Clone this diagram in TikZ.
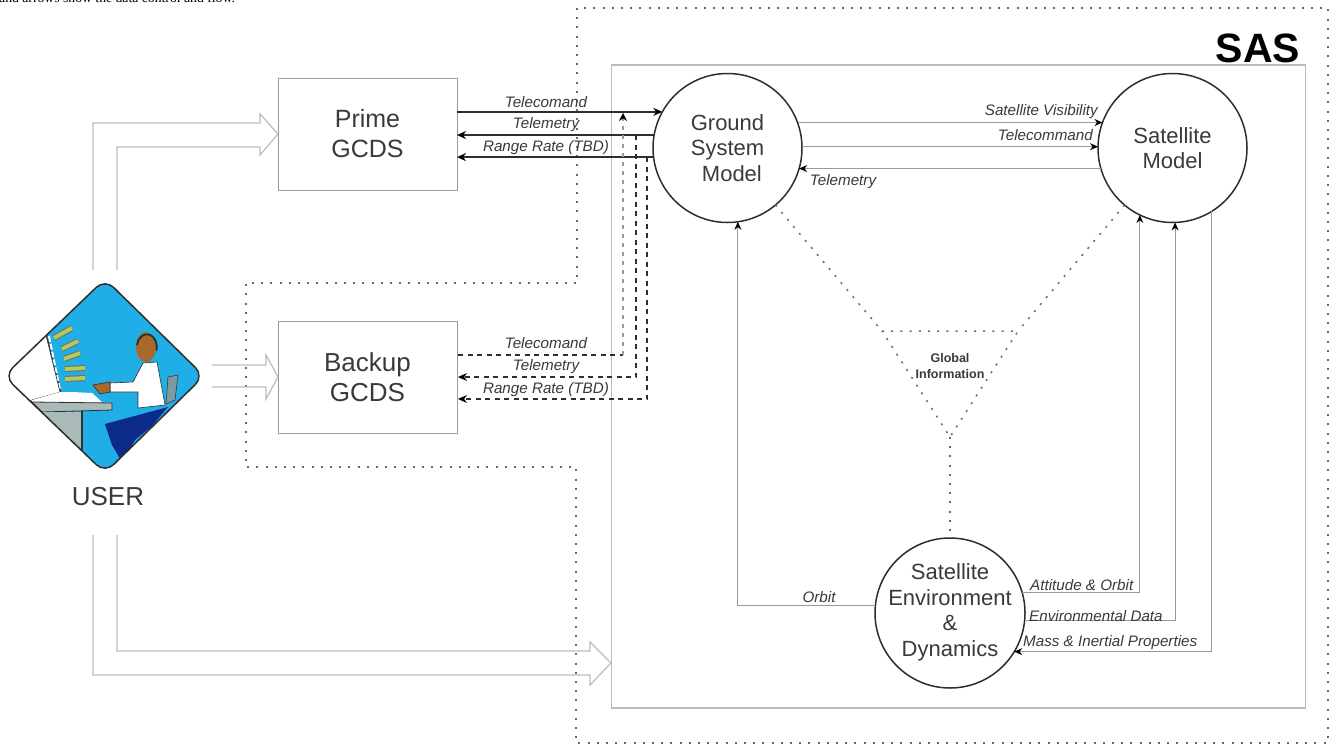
\documentclass[tikz,border=0pt]{standalone}
\usepackage{fontspec}
\setmainfont{Liberation Sans}
\newfontfamily\serifcap{Liberation Serif}
\usetikzlibrary{arrows.meta,shapes.geometric}
\newcommand\fsz[2]{\fontsize{#1}{#2}\selectfont}
\definecolor{txt}{HTML}{3A3A3A}
\definecolor{lite}{HTML}{BCBCBC}
\definecolor{mid}{HTML}{9A9A9A}
\definecolor{dark}{HTML}{2E2E2E}
\definecolor{dotc}{HTML}{6A6A6A}
\definecolor{cy}{HTML}{1FAEE6}
\definecolor{deskc}{HTML}{A9BAB8}
\definecolor{chairc}{HTML}{7E9AA0}
\definecolor{barc}{HTML}{B5C85A}
\definecolor{skin}{HTML}{A8692C}
\definecolor{pants}{HTML}{0C2A8A}
\tikzset{
  boxn/.style={draw=mid,line width=1pt,rectangle,minimum width=179pt,minimum height=112pt,inner sep=0pt,outer sep=0pt,align=center,text=txt,font=\fsz{25}{30}},
  circn/.style={draw=dark,line width=1.5pt,circle,inner sep=-30pt,outer sep=0pt,align=center,text=txt,font=\fsz{22}{25.5}},
  hollow/.style={draw=lite,line width=1.2pt,line join=miter},
  dotline/.style={draw=dotc,line width=1.5pt,dash pattern=on 2pt off 7.2pt},
  blackline/.style={draw=dark,line width=1.4pt,-{Stealth[length=9pt,width=8pt,color=black]}},
  dashplain/.style={draw=dark,line width=1.1pt,dash pattern=on 5pt off 4.5pt},
  dashline/.style={dashplain,-{Stealth[length=9pt,width=8pt,color=black]}},
  fadedash/.style={draw=mid,line width=1.5pt,dash pattern=on 4pt off 5pt,-{Stealth[length=8pt,width=8pt,color=black]}},
  greyline/.style={draw=mid,line width=1pt,-{Stealth[length=8pt,width=7pt,color=black]}},
  lab/.style={font=\fsz{15.2}{16}\itshape,text=txt,inner sep=0pt},
}
\begin{document}
\begin{tikzpicture}[x=1pt,y=-1pt]
\useasboundingbox (0,0) rectangle (1333,745);
\fill[white] (0,0) rectangle (1333,745);
% caption line cut by the top edge, as in the reference
\node[anchor=base west,inner sep=0pt,font=\serifcap\fsz{13.7}{14}] (cap) at (-1,2) {and arrows show the data control and flow.};
% outer dotted boundary and inner box
\draw[dotline] (577,8) -- (577,283) -- (246,283) -- (246,467) -- (576,467) -- (576,743) -- (1328,743) -- (1328,8) -- cycle;
\node[draw=lite,line width=1.2pt,rectangle,minimum width=694pt,minimum height=643pt,inner sep=0pt,outer sep=0pt] (sas) at (958.5,386.5) {};
\node[font=\bfseries\fsz{41}{41},text=black,inner sep=0pt] (sasl) at (1258,48) {SAS};
% boxes and circles
\node[boxn] (prime) at (367.5,134) {Prime\\GCDS};
\node[boxn,font=\fsz{26}{30}] (backup) at (367.5,377) {Backup\\GCDS};
\node[circn,minimum size=149pt] (ground) at (727.5,148) {Ground\\System\\\hspace{.4em}Model};
\node[circn,minimum size=149pt] (sat) at (1172.5,148) {Satellite\\Model};
\node[circn,minimum size=150pt] (env) at (950,613) {\raisebox{3pt}{\begin{tabular}{@{}c@{}}Satellite\\Environment\\\&\\Dynamics\end{tabular}}};
% user icon
\node[draw=none,diamond,minimum width=190pt,minimum height=184pt,inner sep=0pt] (user) at (104,376) {};
\begin{scope}
 \clip[rounded corners=12pt] (105,279) -- (204,376) -- (105,473) -- (4,376) -- cycle;
 \fill[cy] (0,275) rectangle (210,480);
 \fill[white,draw=dark,line width=.8pt] (0,376) -- (46,333) -- (61,392) -- (32,400) -- (30,410) -- (0,390) -- cycle;
 \draw[white,line width=2pt,dash pattern=on 6pt off 2pt] (49,336) -- (60,390);
 \draw[dark,line width=.7pt] (46,335) -- (60,392);
 \foreach \a/\b/\c/\d in {54/338/72/328,62/349/78/341,64/359/80/353,65/369/85/368,65/379/85/378}
   {\draw[dark!70,line width=6pt] (\a,\b) -- (\c,\d); \draw[barc,line width=4pt] (\a,\b) -- (\c,\d);}
 \fill[white] (32,400) -- (60,392) -- (72,392) -- (72,402) -- (112,403) -- (32,403) -- cycle;
 \fill[white] (72,392) -- (92,393) -- (103,403) -- (72,402) -- cycle;
 \fill[deskc,draw=dark,line width=.8pt] (32,402) -- (112,403) -- (112,410) -- (42,412) -- cycle;
 \fill[deskc] (42,412) -- (82,412) -- (82,475) -- (60,475) -- (20,420) -- cycle;
 \draw[dark,line width=1.2pt] (82,411) -- (82,475);
 \fill[chairc,draw=dark,line width=.5pt] (168,377) -- (178,375) -- (175,400) -- (166,404) -- cycle;
 \fill[white,draw=dark,line width=.6pt] (143,363) -- (157,362) -- (165,405) -- (138,408) -- (138,392) -- (110,392) -- (110,383) -- (133,382) -- cycle;
 \fill[skin,draw=dark,line width=.6pt] (93,385) -- (110,382) -- (110,392) -- (100,394) -- cycle;
 \fill[skin] (146,347) ellipse (10pt and 15pt);
 \draw[dark,line width=1.8pt] (137,345) arc[start angle=190,end angle=375,x radius=10pt,y radius=-13pt];
 \fill[pants] (105,424) -- (168,407) -- (152,426) -- (135,440) -- (122,462) -- (112,445) -- cycle;
\end{scope}
\draw[dark,line width=1.5pt,rounded corners=12pt] (105,279) -- (204,376) -- (105,473) -- (4,376) -- cycle;
\node[font=\fsz{26}{26},text=txt,inner sep=0pt] (usr) at (108,497) {USER};
% hollow arrows
\coordinate (u1) at (93,270);
\coordinate (u2) at (117,270);
\coordinate (u3) at (212,365);
\coordinate (u4) at (212,387);
\coordinate (u5) at (93,535);
\coordinate (u6) at (117,535);
\coordinate (tip) at (611,663);
\draw[hollow] (u1) |- (260,123) -- (260,114) -- (prime.west) -- (260,155) -- (260,147) -| (u2);
\draw[hollow] (u3) -- (266,365) -- (266,355) -- (backup.west) -- (266,399) -- (266,387) -- (u4);
\draw[hollow] (u5) |- (590,675) -- (590,685) -- (tip) -- (590,642) -- (590,651) -| (u6);
% prime links
\draw[blackline] (prime.east |- ground.151) -- (ground.151);
\draw[blackline] (ground.170) -- (prime.east |- ground.170);
\draw[blackline] (ground.187) -- (prime.east |- ground.187);
\node[lab] (l1) at (546,102) {Telecomand};
\node[lab] (l2) at (546,125) {Telemetry};
\node[lab] (l3) at (546,148) {Range Rate (TBD)};
% backup links
\coordinate (c1) at (623,113);
\coordinate (c1b) at (623,355);
\coordinate (c2) at (636,135);
\coordinate (c3) at (647,157);
\coordinate (y1) at (458,355);
\coordinate (y2) at (458,377);
\coordinate (y3) at (458,399);
\draw[dashplain] (y1) -- (c1b);
\draw[fadedash] (c1b) -- (c1);
\draw[dashline] (c2) |- (y2);
\draw[dashline] (c3) |- (y3);
\node[lab] (l4) at (546,343) {Telecomand};
\node[lab] (l5) at (546,367) {Telemetry};
\node[lab] (l6) at (546,390) {Range Rate (TBD)};
% ground / satellite
\draw[greyline] (ground.20) -- (sat.160);
\draw[greyline] (ground.1) -- (sat.179);
\draw[greyline] (sat.196) -- (ground.-16);
\node[lab,anchor=east] (l7) at (1098,112) {Satellite Visibility};
\node[lab,anchor=east] (l8) at (1093,135) {Telecommand};
\node[lab] (l9) at (843,182) {Telemetry};
% environment links
\draw[greyline] (env.174) -| (ground.-82);
\draw[greyline] (env.16) -| (sat.244);
\draw[greyline] (env.-6) -| (sat.272);
\draw[greyline] (sat.-58) |- (env.-31);
\node[lab] (l10) at (819,597) {Orbit};
\node[lab,anchor=west] (l11) at (1030,585) {Attitude \& Orbit};
\node[lab,anchor=west] (l12) at (1029,616) {Environmental Data};
\node[lab,anchor=west] (l13) at (1023,643) {Mass \& Inertial Properties};
% global information
\coordinate (ta) at (882,331);
\coordinate (tb) at (1018,331);
\coordinate (tc) at (950,437);
\draw[dotline] (ta) -- (tb) -- (tc) -- cycle;
\draw[dotline] (ground.-50) -- (ta);
\draw[dotline] (sat.230) -- (tb);
\draw[dotline] (tc) -- (env.north);
\node[font=\bfseries\fsz{12.5}{16},text=txt,align=center,inner sep=0pt] (glob) at (950,366) {Global\\Information};
\end{tikzpicture}
\end{document}
